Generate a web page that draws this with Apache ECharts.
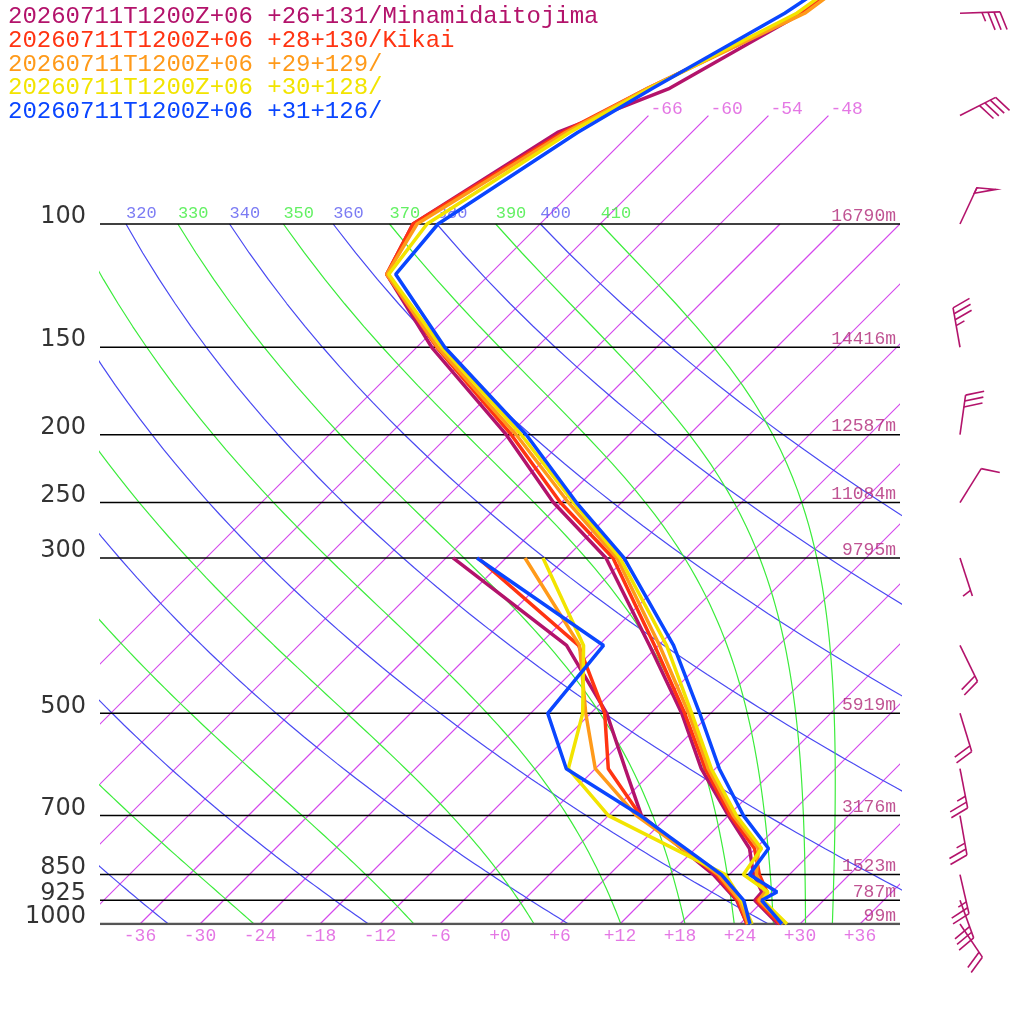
<!DOCTYPE html>
<html>
<head>
<meta charset="utf-8">
<title>Skew-T 20260711T1200Z+06</title>
<script src="https://cdn.jsdelivr.net/npm/echarts@6/dist/echarts.min.js"></script>
<style>
  html, body { margin: 0; padding: 0; background: #fff; }
  #chart { width: 1024px; height: 1024px; }
</style>
</head>
<body>
<div id="chart"></div>
<script>
// ---- station header lines and colours
const stationLabels = [
  "20260711T1200Z+06 +26+131/Minamidaitojima",
  "20260711T1200Z+06 +28+130/Kikai",
  "20260711T1200Z+06 +29+129/",
  "20260711T1200Z+06 +30+128/",
  "20260711T1200Z+06 +31+126/"
];
const stationColors = ["#b3136b", "#ff3412", "#ff9a1a", "#f2e400", "#0a46ff"];

// ---- temperature profiles (degC) on these pressure levels (hPa)
const tempLevels = [1000, 925, 900, 850, 780, 700, 600, 500, 400, 300, 250, 200, 150, 118, 100, 74, 64, 50, 40];
const tempMinami = [27.8, 23.1, 23.0, 20.4, 17.4, 12.0, 4.6, -2.9, -12.9, -26.0, -36.8, -48.3, -64.5, -76.3, -78.7, -73.4, -66.6, -60.9, -58.3];
const tempKikai  = [28.0, 23.3, 23.5, 21.0, 17.9, 12.2, 5.0, -2.6, -12.4, -25.3, -36.1, -47.8, -64.0, -76.3, -78.7, -72.9, -68.8, -60.8, -58.3];
const temp29     = [28.3, 23.5, 23.3, 20.7, 18.3, 12.5, 5.3, -2.2, -11.9, -24.9, -35.3, -47.3, -63.9, -76.3, -78.3, -72.6, -68.8, -60.6, -58.2];
const temp30     = [28.7, 23.9, 23.6, 19.4, 18.6, 12.8, 5.6, -1.9, -11.2, -24.6, -34.8, -46.8, -63.5, -76.1, -77.3, -72.2, -68.6, -61.4, -58.8];
const temp31     = [28.2, 23.8, 24.5, 20.0, 19.3, 13.5, 6.4, -1.1, -10.5, -24.2, -34.5, -46.3, -63.2, -75.4, -76.2, -71.4, -68.3, -62.6, -59.2];

// ---- dew points (degC)
const dewLevels = [1000, 925, 850, 700, 600, 500, 400, 300];
const dewMinami = [24.7, 21.3, 16.4, 3.3, -3.0, -10.4, -21.2, -41.3];
const dewKikai  = [24.7, 21.4, 16.7, 3.2, -4.7, -10.6, -20.0, -38.8];
const dew29     = [24.8, 21.6, 16.9, 2.8, -6.0, -12.5, -19.9, -34.1];
const dew30     = [25.2, 21.8, 17.6, 0.0, -8.7, -12.8, -19.5, -32.3];
const dew31     = [25.0, 22.0, 17.2, 3.2, -8.9, -16.3, -17.5, -38.9];

// ---- wind barbs (Minamidaitojima), direction deg, speed kt
const windLevels = [50, 70, 100, 150, 200, 250, 300, 400, 500, 600, 700, 850, 925, 1000];
const windDir    = [88, 63, 25, 350, 8, 32, 162, 154, 163, 169, 170, 167, 160, 146];
const windSpd    = [35, 40, 50, 35, 30, 10, 5, 20, 20, 25, 25, 25, 30, 20];

// ---- axis annotations
const levelLabels  = [100, 150, 200, 250, 300, 500, 700, 850, 925, 1000];
const heightLabels = ["16790m", "14416m", "12587m", "11084m", "9795m", "5919m", "3176m", "1523m", "787m", "99m"];
const tempTicks    = [-36, -30, -24, -18, -12, -6, 0, 6, 12, 18, 24, 30, 36];
const isotherms    = [-66, -60, -54, -48, -42, -36, -30, -24, -18, -12, -6, 0, 6, 12, 18, 24, 30, 36];
const thetaLines   = [240, 260, 280, 300, 320, 340, 360, 380, 400];
const thetaELines  = [250, 270, 290, 310, 330, 350, 370, 390, 410];

const ISO_COLOR = "#d448ec";
const DRY_COLOR = "#4a4af2";
const MOIST_COLOR = "#3cec3c";

// skew: 70 degC per decade of pressure, top of plot sits 924px above 1000 hPa
const SKEW = 70;
const TOP_P = 1000 / Math.pow(10, 924 / 700);
function sx(t, p) { return t + SKEW * (3 - Math.log10(p)); }
function ly(p) { return Math.log10(p); }

// thermodynamics for the guide lines
function esat(tc) { return 6.112 * Math.exp(17.67 * tc / (tc + 243.5)); }
function rsat(tc, p) { const e = esat(tc); return 0.622 * e / (p - e); }
function thetaE(tc, p) {
  const tk = tc + 273.15, r = rsat(tc, p) * 1000;
  return tk * Math.pow(1000 / p, 0.2854 * (1 - 0.00028 * r)) *
    Math.exp((3.376 / tk - 0.00254) * r * (1 + 0.00081 * r));
}
function moistLapse(tc, p) {
  const tk = tc + 273.15, r = rsat(tc, p), L = 2.501e6;
  return (287.04 * tk + L * r) / (p * (1005.7 + L * L * r * 0.622 / (287.04 * tk * tk)));
}
function moistAdiabat(te) {
  let lo = -70, hi = 45;
  for (let i = 0; i < 60; i++) {
    const mid = (lo + hi) / 2;
    if (thetaE(mid, 1000) < te) lo = mid; else hi = mid;
  }
  let t = (lo + hi) / 2;
  const pts = [[sx(t, 1000), ly(1000)]];
  for (let p = 1000; p > 100; p -= 2) {
    const k1 = moistLapse(t, p);
    const k2 = moistLapse(t - k1, p - 1);
    t = t - 2 * k2;
    if ((p - 2) % 10 === 0) pts.push([sx(t, p - 2), ly(p - 2)]);
  }
  return pts;
}
function dryAdiabat(th) {
  const pts = [];
  for (let p = 1000; p >= 100; p -= 10) {
    pts.push([sx(th * Math.pow(p / 1000, 0.2857) - 273.15, p), ly(p)]);
  }
  return pts;
}

function guideLine(pts, color, width, z) {
  return {
    type: "line", symbol: "none", silent: true, animation: false, z: z || 1,
    color: color,
    lineStyle: { color: color, width: width },
    data: pts
  };
}

const series = [];

// isotherms: drawn as a custom series, each one a straight segment
series.push({
  type: "custom", silent: true, animation: false, z: 1, clip: true,
  data: isotherms.map(function (t) { return [t, t <= -48 ? 70 : 100]; }),
  renderItem: function (params, api) {
    const t = api.value(0), top = api.value(1);
    const a = api.coord([sx(t, 1000), ly(1000)]);
    const b = api.coord([sx(t, top), ly(top)]);
    return {
      type: "line",
      shape: { x1: a[0], y1: a[1], x2: b[0], y2: b[1] },
      style: { stroke: ISO_COLOR, lineWidth: 1.2, fill: null }
    };
  }
});

// dry adiabats (blue) and moist adiabats (green)
const guideLabels = [];
thetaLines.forEach(function (th) {
  const pts = dryAdiabat(th);
  series.push(guideLine(pts, DRY_COLOR, 1.2));
  const top = pts[pts.length - 1];
  if (top[0] >= -40) guideLabels.push({ value: top, name: String(th), color: "#5a5af0" });
});
thetaELines.forEach(function (te) {
  const pts = moistAdiabat(te);
  series.push(guideLine(pts, MOIST_COLOR, 1.2));
  const top = pts[pts.length - 1];
  if (top[0] >= -40) guideLabels.push({ value: top, name: String(te), color: MOIST_COLOR });
});

series.push({
  type: "scatter", symbolSize: 0, silent: true, animation: false, z: 2,
  data: guideLabels.map(function (g) {
    return { value: g.value, name: g.name, label: { color: g.color } };
  }),
  label: {
    show: true, position: [0, -11], align: "left", verticalAlign: "middle",
    formatter: "{b}", fontFamily: "Liberation Mono", fontSize: 17
  }
});

// isotherm labels near the top and temperature ticks at the bottom
series.push({
  type: "scatter", symbolSize: 0, silent: true, animation: false, z: 2,
  data: isotherms.filter(function (t) { return t <= -48; }).map(function (t) {
    return { value: [sx(t, 70), ly(70)], name: String(t) };
  }),
  label: {
    show: true, position: [2, -6], align: "left", verticalAlign: "middle",
    formatter: "{b}", color: "#dd55dd", fontFamily: "Liberation Mono", fontSize: 18
  }
});
series.push({
  type: "scatter", symbolSize: 0, silent: true, animation: false, z: 2,
  data: tempTicks.map(function (t) {
    return { value: [sx(t, 1000), ly(1000)], name: (t < 0 ? "-" : "+") + Math.abs(t) };
  }),
  label: {
    show: true, position: [0, 12], align: "center", verticalAlign: "middle",
    formatter: "{b}", color: "#dd55dd", fontFamily: "Liberation Mono", fontSize: 18
  }
});

// pressure level lines with pressure and height labels
levelLabels.forEach(function (p) {
  series.push(p === 1000
    ? guideLine([[-40, ly(p)], [40, ly(p)]], "#555555", 2.5, 3)
    : guideLine([[-40, ly(p)], [40, ly(p)]], "#000000", 1.5, 3));
});
series.push({
  type: "scatter", symbolSize: 0, silent: true, animation: false, z: 3,
  data: levelLabels.map(function (p) { return { value: [-40, ly(p)], name: String(p) }; }),
  label: {
    show: true, position: "left", distance: 14, offset: [0, -7],
    formatter: "{b}", color: "#000", fontFamily: "DejaVu Sans", fontSize: 24
  }
});
series.push({
  type: "scatter", symbolSize: 0, silent: true, animation: false, z: 3,
  data: levelLabels.map(function (p, i) { return { value: [40, ly(p)], name: heightLabels[i] }; }),
  label: {
    show: true, position: "left", distance: 4, offset: [0, -8],
    formatter: "{b}", color: "#b02878", fontFamily: "Liberation Mono", fontSize: 18
  }
});

// soundings: temperature and dew point for each station
const temps = [tempMinami, tempKikai, temp29, temp30, temp31];
const dews = [dewMinami, dewKikai, dew29, dew30, dew31];
temps.forEach(function (arr, k) {
  [[tempLevels, arr], [dewLevels, dews[k]]].forEach(function (pair) {
    series.push({
      type: "line", symbol: "none", animation: false, z: 5 + k, clip: true,
      color: stationColors[k],
      data: pair[0].map(function (p, i) { return [sx(pair[1][i], p), ly(p)]; }),
      lineStyle: { color: stationColors[k], width: 3.5 }
    });
  });
});

// wind barbs to the right of the plot
function renderBarb(params, api) {
  const base = api.coord([api.value(0), api.value(1)]);
  const dir = api.value(2) * Math.PI / 180;
  let left = Math.round(api.value(3) / 5) * 5;
  const x0 = base[0] + 60, y0 = base[1];
  const dx = Math.sin(dir), dy = -Math.cos(dir);
  const c = Math.cos(70 * Math.PI / 180), s = Math.sin(70 * Math.PI / 180);
  const bx = dx * c - dy * s, by = dx * s + dy * c;
  const tx = x0 + 40 * dx, ty = y0 + 40 * dy;
  const style = { stroke: stationColors[0], lineWidth: 1.6, fill: null };
  const kids = [{ type: "line", shape: { x1: x0, y1: y0, x2: tx, y2: ty }, style: style }];
  let pos = 0;
  while (left >= 50) {
    const px = tx - pos * dx, py = ty - pos * dy;
    kids.push({ type: "polygon", shape: { points: [[px, py], [px + 19 * bx, py + 19 * by], [px - 6 * dx, py - 6 * dy]] }, style: style });
    pos += 7; left -= 50;
  }
  while (left >= 10) {
    const px = tx - pos * dx, py = ty - pos * dy;
    kids.push({ type: "line", shape: { x1: px, y1: py, x2: px + 19 * bx, y2: py + 19 * by }, style: style });
    pos += 6; left -= 10;
  }
  if (left >= 5) {
    if (pos === 0) pos = 6;
    const px = tx - pos * dx, py = ty - pos * dy;
    kids.push({ type: "line", shape: { x1: px, y1: py, x2: px + 9.5 * bx, y2: py + 9.5 * by }, style: style });
  }
  return { type: "group", children: kids };
}
series.push({
  type: "custom", silent: true, animation: false, z: 10, clip: false,
  renderItem: renderBarb,
  data: windLevels.map(function (p, i) { return [40, ly(p), windDir[i], windSpd[i]]; })
});

const chart = echarts.init(document.getElementById("chart"));
chart.setOption({
  backgroundColor: "#fff",
  animation: false,
  grid: { left: 100, right: 124, top: 0, bottom: 100 },
  xAxis: { type: "value", min: -40, max: 40, show: false },
  yAxis: { type: "value", min: Math.log10(TOP_P), max: 3, inverse: true, show: false },
  graphic: stationLabels.map(function (txt, i) {
    return {
      type: "text", left: 8, top: 5 + i * 23.7, z: 20,
      style: { text: txt, fill: stationColors[i], font: "24px 'Liberation Mono'" }
    };
  }),
  series: series
});
</script>
</body>
</html>
